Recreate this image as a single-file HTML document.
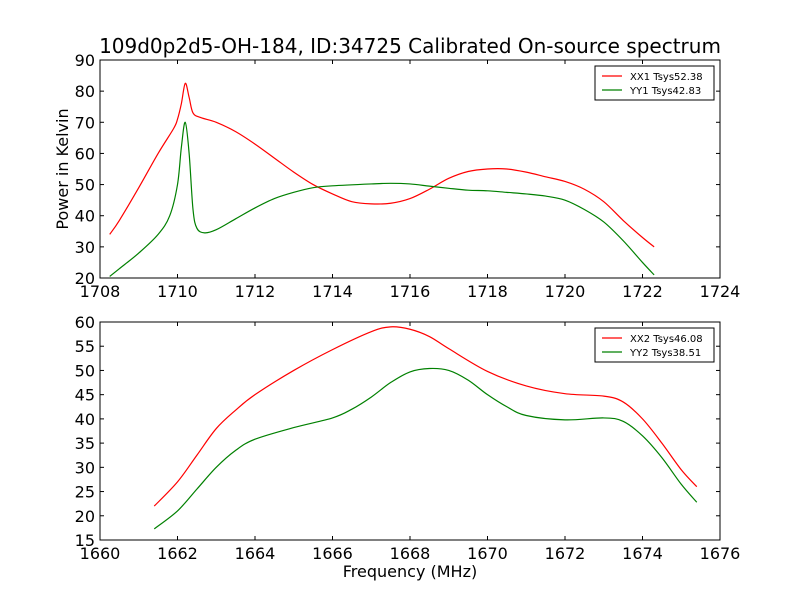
<!DOCTYPE html>
<html><head><meta charset="utf-8"><style>
body{margin:0;background:#fff;width:800px;height:600px;overflow:hidden}
text{font-family:"DejaVu Sans","Liberation Sans",sans-serif}
</style></head><body>
<svg id="chart" width="800" height="600" xmlns="http://www.w3.org/2000/svg">
<rect width="800" height="600" fill="#fff"/>
<text x="410" y="53" font-size="20" text-anchor="middle">109d0p2d5-OH-184, ID:34725 Calibrated On-source spectrum</text>
<g id="top"></g>
<g id="bot"></g>
<text x="410" y="577" font-size="16" text-anchor="middle">Frequency (MHz)</text>
<text transform="translate(68,169) rotate(-90)" font-size="16" text-anchor="middle">Power in Kelvin</text>
</svg>
<script>
const xx1F=[1708.25,1708.5,1709,1709.5,1709.9,1710.0,1710.1,1710.2,1710.3,1710.4,1710.6,1711,1711.5,1712,1712.5,1713,1713.5,1714,1714.5,1715,1715.5,1716,1716.5,1717,1717.5,1718,1718.5,1719,1719.5,1720,1720.5,1721,1721.5,1722,1722.3];
const xx1V=[34,38.5,49,60,68,71,76,82.5,78,73,71.5,70,67,63,58.5,54,50,47,44.5,43.8,44,45.5,48.5,52,54.2,55,55,54,52.5,51,48.5,44.5,38.5,33,30];
const yy1F=[1708.25,1708.5,1709,1709.5,1709.8,1710,1710.1,1710.2,1710.3,1710.4,1710.5,1710.7,1711,1711.5,1712,1712.5,1713,1713.5,1714,1715,1715.5,1716,1716.5,1717,1717.5,1718,1718.5,1719,1719.5,1720,1720.5,1721,1721.5,1722,1722.3];
const yy1V=[20.5,23,28,34,40,50,62,70,60,42,36,34.5,35.5,39,42.5,45.5,47.5,49,49.6,50.2,50.4,50.2,49.5,48.8,48.2,48,47.5,47,46.3,45,42,38,32,25,21];
const xx2F=[1661.4,1662,1662.5,1663,1663.5,1664,1665,1666,1667,1667.5,1668,1668.5,1669,1670,1671,1672,1673,1673.5,1674,1674.5,1675,1675.4];
const xx2V=[22,27,32.5,38,41.8,45,50,54.3,58,59,58.5,57,54.5,49.8,46.8,45.2,44.7,43.5,40,35,29.5,26];
const yy2F=[1661.4,1662,1662.5,1663,1663.5,1664,1665,1666,1666.5,1667,1667.5,1668,1668.5,1669,1669.5,1670,1670.5,1671,1672,1673,1673.5,1674,1674.5,1675,1675.4];
const yy2V=[17.3,21,25.5,30,33.5,35.8,38.2,40.2,42,44.5,47.5,49.7,50.4,50,48,45,42.5,40.7,39.8,40.2,39.5,36.5,32,26.5,22.8];
const topXTicks=[1708,1710,1712,1714,1716,1718,1720,1722,1724];
const topYTicks=[20,30,40,50,60,70,80,90];
const botXTicks=[1660,1662,1664,1666,1668,1670,1672,1674,1676];
const botYTicks=[15,20,25,30,35,40,45,50,55,60];
const NS="http://www.w3.org/2000/svg";
function mk(p,t,a){const e=document.createElementNS(NS,t);for(const k in a)e.setAttribute(k,a[k]);p.appendChild(e);return e;}
function smooth(pts){
 let d='M'+pts[0][0]+','+pts[0][1];
 for(let i=0;i<pts.length-1;i++){
  const p0=pts[Math.max(0,i-1)],p1=pts[i],p2=pts[i+1],p3=pts[Math.min(pts.length-1,i+2)];
  const c1x=p1[0]+(p2[0]-p0[0])/6,c1y=p1[1]+(p2[1]-p0[1])/6;
  const c2x=p2[0]-(p3[0]-p1[0])/6,c2y=p2[1]-(p3[1]-p1[1])/6;
  d+=' C'+c1x+','+c1y+' '+c2x+','+c2y+' '+p2[0]+','+p2[1];
 }
 return d;
}
function panel(g,top,xr,yr,xt,yt,series,leg){
 const L=100,R=720,T=top,B=top+218;
 const sx=v=>L+(v-xr[0])/(xr[1]-xr[0])*(R-L);
 const sy=v=>B-(v-yr[0])/(yr[1]-yr[0])*(B-T);
 series.forEach(s=>{
  const p=mk(g,'path',{d:smooth(s.f.map((f,i)=>[sx(f),sy(s.v[i])])),fill:'none',stroke:s.c,'stroke-width':1.2,'stroke-linejoin':'round'});
  
  
 });
 mk(g,'rect',{x:L,y:T,width:R-L,height:B-T,fill:'none',stroke:'#000'});
 xt.forEach(v=>{const x=sx(v);mk(g,'line',{x1:x,x2:x,y1:B,y2:B-4,stroke:'#000'});mk(g,'line',{x1:x,x2:x,y1:T,y2:T+4,stroke:'#000'});
  const t=mk(g,'text',{x:x,y:B+19,'font-size':16,'text-anchor':'middle'});t.textContent=v;
  
  });
 yt.forEach(v=>{const y=sy(v);mk(g,'line',{x1:L,x2:L+4,y1:y,y2:y,stroke:'#000'});mk(g,'line',{x1:R,x2:R-4,y1:y,y2:y,stroke:'#000'});
  const t=mk(g,'text',{x:L-5,y:y+6,'font-size':16,'text-anchor':'end'});t.textContent=v;
  
  });
 const lg=mk(g,'g',{});
 
 
 mk(lg,'rect',{x:595,y:T+6,width:119,height:34,fill:'#fff',stroke:'#000'});
 leg.forEach((l,i)=>{const y=T+16+i*14;mk(lg,'line',{x1:602,x2:622,y1:y,y2:y,stroke:l[1],'stroke-width':1.2});
  const t=mk(lg,'text',{x:630,y:y+4,'font-size':10});t.textContent=l[0];
  
  });
}
panel(document.getElementById('top'),60,[1708,1724],[20,90],topXTicks,topYTicks,
 [{f:xx1F,v:xx1V,c:'#ff0000',n:'xx1-line'},{f:yy1F,v:yy1V,c:'#008000',n:'yy1-line'}],
 [['XX1 Tsys52.38','#ff0000'],['YY1 Tsys42.83','#008000']]);
panel(document.getElementById('bot'),322,[1660,1676],[15,60],botXTicks,botYTicks,
 [{f:xx2F,v:xx2V,c:'#ff0000',n:'xx2-line'},{f:yy2F,v:yy2V,c:'#008000',n:'yy2-line'}],
 [['XX2 Tsys46.08','#ff0000'],['YY2 Tsys38.51','#008000']]);
</script>
</body></html>
